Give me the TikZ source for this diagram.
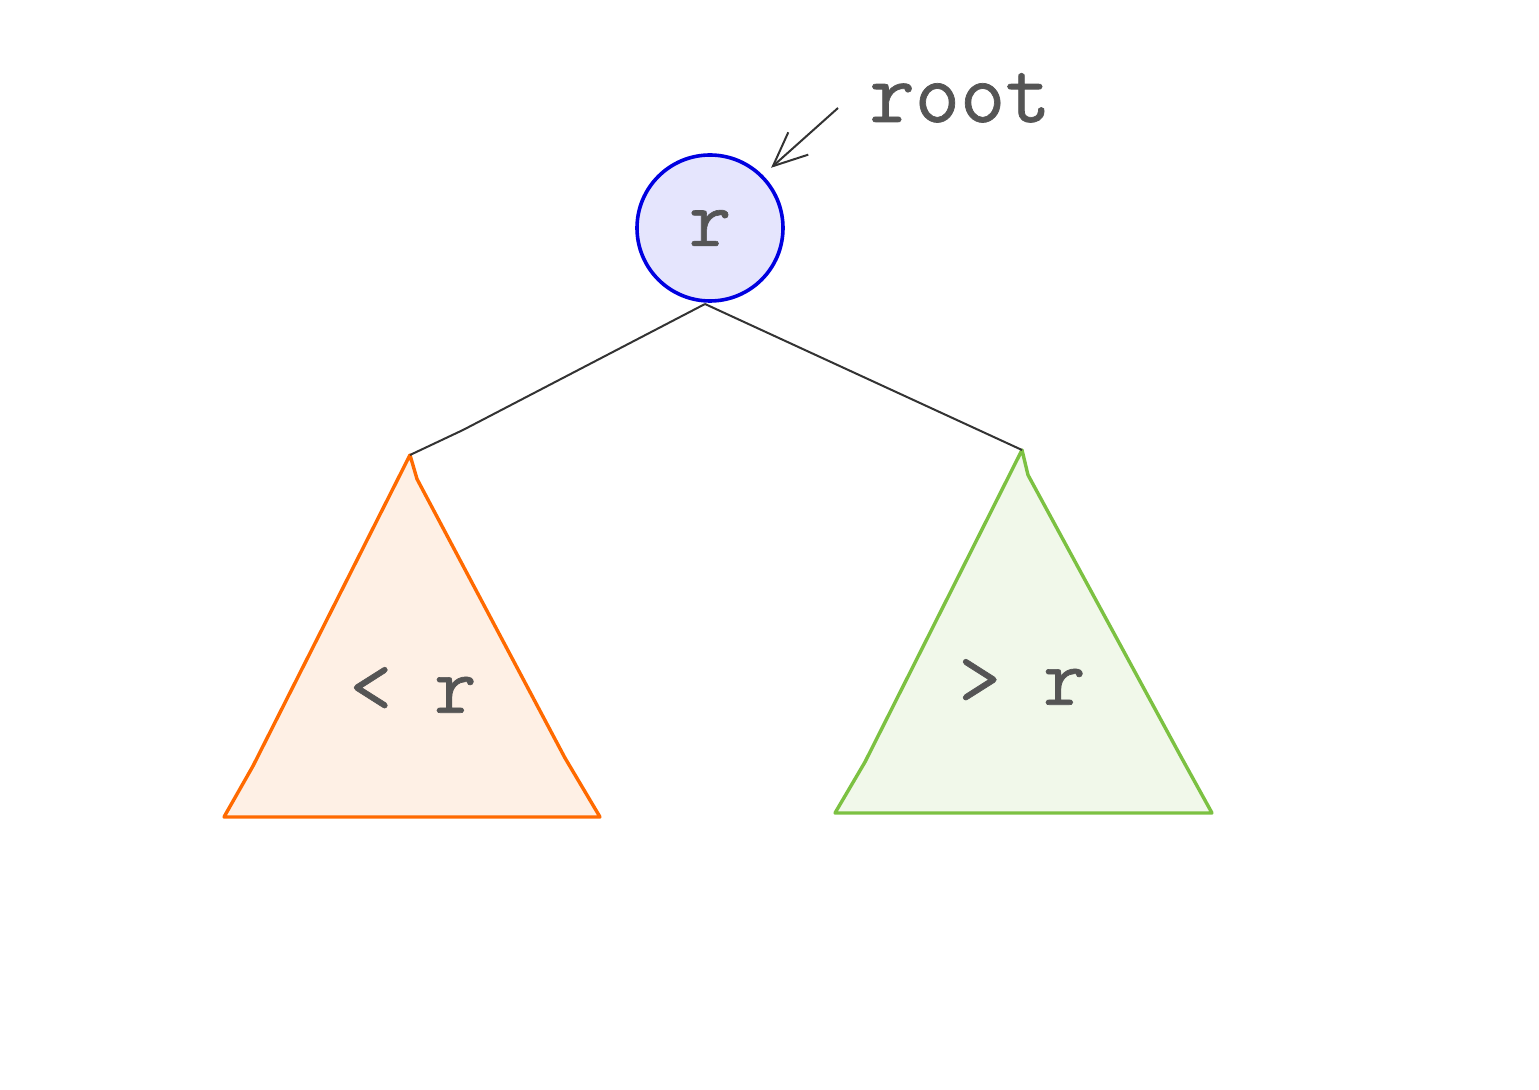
\documentclass[tikz,border=0pt]{standalone}
\usepackage{fontspec}
\setmonofont[FakeBold=0.8]{Latin Modern Mono}
\usetikzlibrary{arrows.meta}
\definecolor{txtgray}{HTML}{555555}
\definecolor{linegray}{HTML}{333333}
\definecolor{rootblue}{HTML}{0000E0}
\definecolor{rootfill}{HTML}{E5E5FD}
\definecolor{lessline}{HTML}{FF6A00}
\definecolor{lessfill}{HTML}{FEF0E5}
\definecolor{moreline}{HTML}{7CC142}
\definecolor{morefill}{HTML}{F1F8EA}
\tikzset{
  lbl/.style={font=\ttfamily\fontsize{41}{45}\selectfont, text=txtgray, inner sep=0pt},
  biglbl/.style={lbl, font=\ttfamily\fontsize{44}{48}\selectfont},
  edge/.style={draw=linegray, line width=1pt},
  subtree/.style={line width=1.7pt, line join=round},
}
\begin{document}
\begin{tikzpicture}[x=0.5pt,y=-0.5pt]
\useasboundingbox (0,0) rectangle (1539,1090);

% root node
\node[circle, minimum size=73pt, draw=rootblue, fill=rootfill, line width=1.8pt,
      lbl] (r) at (710,228) {r};

% label and pointer
\node[biglbl, anchor=base west] (rootlbl) at (869,122) {root};
\coordinate (ptr) at (838,108);
\draw[draw=linegray, line width=1pt, shorten >=5.5pt,
      -{Straight Barb[length=17pt, width=15pt, line width=1pt]}]
  (ptr) -- (r.45);

% left subtree (< r)
\coordinate (la) at (410,455);
\filldraw[subtree, draw=lessline, fill=lessfill]
  (la) -- (417,479) -- (565,758) -- (600,817) -- (224,817) -- (253,766) -- cycle;
\node[lbl] (less) at (413,690) {< r};

% right subtree (> r)
\coordinate (ra) at (1022,450);
\filldraw[subtree, draw=moreline, fill=morefill]
  (ra) -- (1028,475) -- (1180,755) -- (1212,813) -- (835,813) -- (865,762) -- cycle;
\node[lbl] (more) at (1022,682) {> r};

% edges from the root to both subtrees
\coordinate (rb) at (705,304);
\draw[edge] (rb) -- (463,430) -- (la);
\draw[edge] (rb) -- (ra);
\end{tikzpicture}
\end{document}
